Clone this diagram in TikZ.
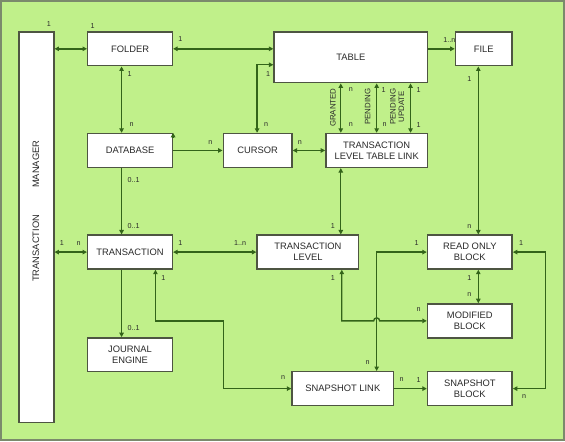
\documentclass[tikz,border=0pt]{standalone}
\usepackage{fontspec}
\setmainfont{Liberation Sans}
\usetikzlibrary{arrows.meta}
\definecolor{bg}{HTML}{C0F08A}
\definecolor{frame}{HTML}{7B8A6C}
\definecolor{ln}{HTML}{336419}
\definecolor{bx}{HTML}{4E5542}
\definecolor{tx}{HTML}{2A2A2A}
\begin{document}
\begin{tikzpicture}[x=1pt,y=1pt,
  box/.style={draw=bx,fill=white,line width=1.4pt,inner sep=1pt,align=center,
    font=\fontsize{9.4}{11.2}\selectfont,text=tx},
  lab/.style={font=\fontsize{7.2}{8}\selectfont,text=tx,inner sep=0pt},
  rlab/.style={font=\fontsize{7.9}{8.6}\selectfont,text=tx,inner sep=0pt,rotate=90,align=center},
  con/.style={draw=ln,line width=1.4pt},
  tip/.style={con,-{Triangle[length=4.5pt,width=4.5pt]}},
  tips/.style={con,{Triangle[length=4.5pt,width=4.5pt]}-{Triangle[length=4.5pt,width=4.5pt]}}]
\path[fill=bg,draw=frame,line width=2pt] (0,0) rectangle (565,-441);
\useasboundingbox (0,0) rectangle (565,-441);
% boxes
\node[box,minimum width=35pt,minimum height=392pt] (tm) at (35.5,-227) {};
\node[rlab,font=\fontsize{9.4}{11}\selectfont] (tmtext) at (35,-211) {TRANSACTION\hspace{27pt}MANAGER};
\node[box,minimum width=85pt,minimum height=34pt] (folder) at (129.5,-48) {FOLDER};
\node[box,minimum width=154pt,minimum height=51pt] (table) at (351,-56.5) {TABLE};
\node[box,minimum width=57pt,minimum height=34pt] (file) at (484.5,-48) {FILE};
\node[box,minimum width=85pt,minimum height=34pt] (database) at (129.5,-150) {DATABASE};
\node[box,minimum width=69pt,minimum height=34pt] (cursor) at (257.5,-150) {CURSOR};
\node[box,minimum width=102pt,minimum height=34pt] (tltl) at (377,-150) {TRANSACTION\\LEVEL TABLE LINK};
\node[box,minimum width=85pt,minimum height=34pt] (transaction) at (129.5,-252) {TRANSACTION};
\node[box,minimum width=102pt,minimum height=34pt] (tl) at (308,-252) {TRANSACTION\\LEVEL};
\node[box,minimum width=85pt,minimum height=34pt] (rob) at (470.5,-252) {READ ONLY\\BLOCK};
\node[box,minimum width=85pt,minimum height=34pt] (mb) at (470.5,-321) {MODIFIED\\BLOCK};
\node[box,minimum width=85pt,minimum height=34pt] (je) at (129.5,-355) {JOURNAL\\ENGINE};
\node[box,minimum width=102pt,minimum height=34pt] (sl) at (343,-389) {SNAPSHOT LINK};
\node[box,minimum width=85pt,minimum height=34pt] (sb) at (470.5,-389) {SNAPSHOT\\BLOCK};
% connectors
\draw[tips] (tm.east |- folder.west) -- (folder.west);
\draw[tips] (folder.east) -- (folder.east -| table.west);
\draw[tip] (file.west -| table.east) -- (file.west);
\draw[tips] ([xshift=-0.5pt]cursor.north) |- ([yshift=-7.5pt]table.west);
\draw[tips] ([xshift=-8.5pt]folder.south) -- ([xshift=-8.5pt]database.north);
\draw[tip] (database.east) -- (cursor.west);
\draw[tip] ([yshift=-4pt]database.north east) -- (database.north east);
\draw[tips] (cursor.east) -- (tltl.west);
\draw[tips] ([xshift=-36pt]tltl.north) -- ([xshift=-36pt]tltl.north |- table.south);
\draw[tips] (tltl.north) -- (tltl.north |- table.south);
\draw[tips] ([xshift=34pt]tltl.north) -- ([xshift=34pt]tltl.north |- table.south);
\draw[tips] ([xshift=-36pt]tltl.south) -- ([xshift=-36pt]tltl.south |- tl.north);
\draw[tip] ([xshift=-8.5pt]database.south) -- ([xshift=-8.5pt]transaction.north);
\draw[tips] (tm.east |- transaction.west) -- (transaction.west);
\draw[tips] (transaction.east) -- (tl.west);
\draw[tip] ([xshift=-8.5pt]transaction.south) -- ([xshift=-8.5pt]je.north);
\draw[tips] ([xshift=25.5pt]transaction.south) |- (223,-321) |- (sl.west);
\draw[tips] ([xshift=-5.5pt]file.south) -- ([xshift=-5.5pt]file.south |- rob.north);
\draw[tips] ([xshift=8.5pt]rob.south) -- ([xshift=8.5pt]mb.north);
\draw[tips] ([xshift=34pt]tl.south) |- (374,-321) arc[start angle=180,end angle=0,radius=3pt] -- (mb.west);
\draw[tips] ([xshift=34pt]sl.north) |- (rob.west);
\draw[tip] (sl.east) -- (sb.west);
\draw[tips] (rob.east) -- ++(33,0) |- (sb.east);
% labels
\node[lab] (a1) at (48,-23) {1};
\node[lab] (a2) at (92,-25) {1};
\node[lab] (a3) at (180,-38) {1};
\node[lab] (a4) at (268,-73) {1};
\node[lab] (a5) at (129,-73) {1};
\node[lab] (a6) at (131,-124) {n};
\node[lab] (a7) at (266,-124) {n};
\node[lab] (a8) at (210,-142) {n};
\node[lab] (a9) at (300,-142) {n};
\node[lab] (a10) at (450,-39) {1..n};
\node[lab] (a11) at (470,-78) {1};
\node[lab] (a12) at (351,-89) {n};
\node[lab] (a13) at (351,-124) {n};
\node[lab] (a14) at (384,-89) {1};
\node[lab] (a15) at (385,-124) {n};
\node[lab] (a16) at (419,-89) {1};
\node[lab] (a17) at (419,-124) {1};
\node[rlab] (r1) at (333,-107) {GRANTED};
\node[rlab] (r2) at (368,-106) {PENDING};
\node[rlab] (r3) at (397.5,-106) {PENDING\\UPDATE};
\node[lab] (a18) at (133,-180) {0..1};
\node[lab] (a19) at (133,-226) {0..1};
\node[lab] (a20) at (61,-243) {1};
\node[lab] (a21) at (78,-243) {n};
\node[lab] (a22) at (180,-243) {1};
\node[lab] (a23) at (240,-243) {1..n};
\node[lab] (a24) at (333,-226) {1};
\node[lab] (a25) at (470,-226) {n};
\node[lab] (a26) at (417,-243) {1};
\node[lab] (a27) at (522,-243) {1};
\node[lab] (a28) at (163,-278) {1};
\node[lab] (a29) at (333,-278) {1};
\node[lab] (a30) at (470,-278) {1};
\node[lab] (a31) at (470,-295) {n};
\node[lab] (a32) at (419,-310) {n};
\node[lab] (a33) at (133,-328) {0..1};
\node[lab] (a34) at (368,-363) {n};
\node[lab] (a35) at (283,-378) {n};
\node[lab] (a36) at (402,-380) {n};
\node[lab] (a37) at (419,-380) {1};
\node[lab] (a38) at (525,-397) {n};
\end{tikzpicture}
\end{document}
